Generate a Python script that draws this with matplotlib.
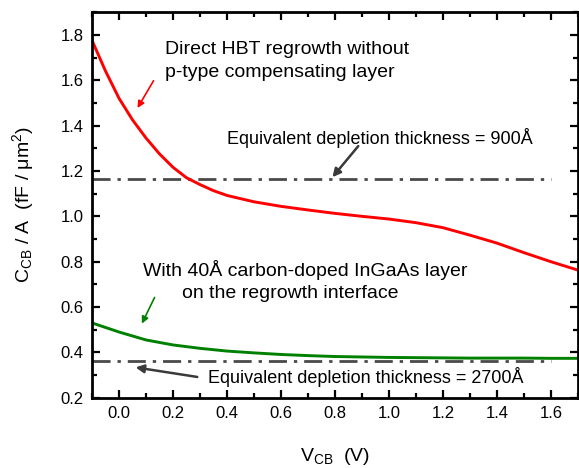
import numpy as np
import matplotlib
matplotlib.use('Agg')
import matplotlib.pyplot as plt
from matplotlib.ticker import MultipleLocator

plt.rcParams['font.family'] = ['Liberation Sans', 'DejaVu Sans']
plt.rcParams['mathtext.fontset'] = 'custom'
plt.rcParams['mathtext.rm'] = 'Liberation Sans'
plt.rcParams['mathtext.it'] = 'Liberation Sans'

# C-V data
vcb_red = [-0.1, -0.05, 0.0, 0.05, 0.1, 0.15, 0.2, 0.25, 0.3, 0.35, 0.4, 0.5,
           0.6, 0.7, 0.8, 0.9, 1.0, 1.1, 1.2, 1.3, 1.4, 1.5, 1.6, 1.7]
cap_red = [1.775, 1.64, 1.52, 1.425, 1.345, 1.275, 1.216, 1.17, 1.14, 1.113, 1.092, 1.064,
           1.044, 1.028, 1.013, 1.0, 0.988, 0.972, 0.95, 0.917, 0.882, 0.84, 0.80, 0.763]
vcb_green = [-0.1, -0.05, 0.0, 0.1, 0.2, 0.3, 0.4, 0.5, 0.6, 0.7, 0.8, 0.9,
             1.0, 1.1, 1.2, 1.3, 1.4, 1.5, 1.6, 1.7]
cap_green = [0.53, 0.51, 0.49, 0.455, 0.433, 0.418, 0.406, 0.398, 0.391, 0.386, 0.382, 0.380,
             0.378, 0.377, 0.376, 0.375, 0.375, 0.375, 0.374, 0.374]
# equivalent depletion thickness levels
vcb_ref = [-0.1, 1.6]
cap_900 = [1.166, 1.166]
cap_2700 = [0.363, 0.363]

fig = plt.figure(figsize=(5.79, 4.68), dpi=100)
ax = fig.add_axes([0.159, 0.150, 0.839, 0.824])

dashdot = (0, (6.5, 2.5, 1.2, 2.5))
ax.plot(vcb_ref, cap_900, color='#4a4a4a', lw=2, linestyle=dashdot)
ax.plot(vcb_ref, cap_2700, color='#4a4a4a', lw=2, linestyle=dashdot)
ax.plot(vcb_red, cap_red, color='red', lw=2.1)
ax.plot(vcb_green, cap_green, color='#008000', lw=2.1)

ax.set_xlim(-0.1, 1.7)
ax.set_ylim(0.2, 1.9)
ax.xaxis.set_major_locator(MultipleLocator(0.2))
ax.xaxis.set_minor_locator(MultipleLocator(0.1))
ax.yaxis.set_major_locator(MultipleLocator(0.2))
ax.yaxis.set_minor_locator(MultipleLocator(0.1))
ax.xaxis.set_major_formatter(matplotlib.ticker.FormatStrFormatter('%.1f'))
ax.yaxis.set_major_formatter(matplotlib.ticker.FormatStrFormatter('%.1f'))
ax.tick_params(which='both', direction='in', top=True, right=True, width=1.6, labelsize=12)
ax.tick_params(which='major', length=6, pad=6)
ax.tick_params(which='minor', length=3.5)
for s in ax.spines.values():
    s.set_linewidth(2)

ax.set_xlabel(r'V$_{\rm CB}$  (V)', fontsize=14, labelpad=18)
ax.set_ylabel(r'C$_{\rm CB}$ / A  (fF / $\rm\mu$m$^2$)', fontsize=14, labelpad=18)

ax.text(0.17, 1.735, 'Direct HBT regrowth without', fontsize=14, va='center')
ax.text(0.17, 1.632, 'p-type compensating layer', fontsize=14, va='center')
ax.annotate('', xy=(0.063, 1.467), xytext=(0.133, 1.608),
            arrowprops=dict(arrowstyle='-|>', color='red', lw=1.2, mutation_scale=10))

ax.text(0.4, 1.345, u'Equivalent depletion thickness = 900\u00c5', fontsize=13, va='center')
ax.annotate('', xy=(0.784, 1.163), xytext=(0.893, 1.319),
            arrowprops=dict(arrowstyle='-|>', color='#3a3a3a', lw=1.8, mutation_scale=12))

ax.text(0.088, 0.763, u'With 40\u00c5 carbon-doped InGaAs layer', fontsize=14, va='center')
ax.text(0.232, 0.659, 'on the regrowth interface', fontsize=14, va='center')
ax.annotate('', xy=(0.080, 0.516), xytext=(0.136, 0.653),
            arrowprops=dict(arrowstyle='-|>', color='#008000', lw=1.2, mutation_scale=10))

ax.text(0.33, 0.29, u'Equivalent depletion thickness = 2700\u00c5', fontsize=13, va='center')
ax.annotate('', xy=(0.051, 0.336), xytext=(0.30, 0.29),
            arrowprops=dict(arrowstyle='-|>', color='#3a3a3a', lw=1.8, mutation_scale=12))

fig.savefig('out.png', dpi=100)
